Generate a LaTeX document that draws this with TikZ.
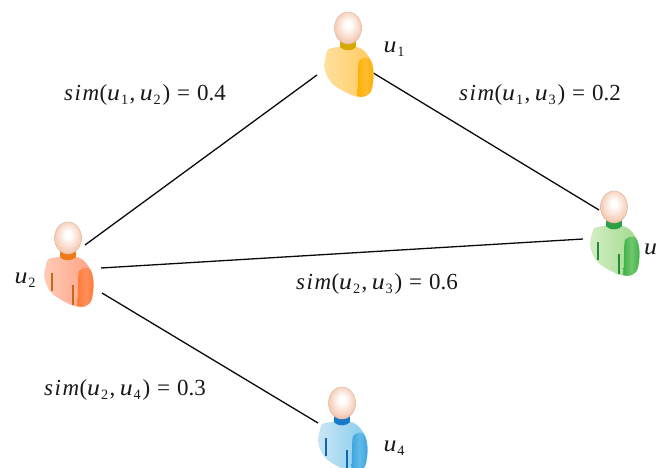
\documentclass[tikz,border=0pt]{standalone}
\usepackage{fontspec}
\usepackage{graphicx}
\setmainfont[ItalicFeatures={LetterSpace=7}]{Liberation Serif}
\definecolor{headl}{HTML}{DCB8A4}
\definecolor{lineK}{HTML}{0A0A0A}
\pgfdeclareradialshading{headsh}{\pgfpoint{0bp}{6bp}}{%
  color(0bp)=(white); color(5bp)=(white); color(14bp)=(rgb,255:red,252;green,232;blue,222);
  color(24bp)=(rgb,255:red,246;green,205;blue,184); color(36bp)=(rgb,255:red,238;green,176;blue,148); color(50bp)=(rgb,255:red,224;green,154;blue,126)}
\newcommand{\uit}{\textit{\scalebox{1.12}[1]{u}}}
\newcommand{\usub}[1]{\uit\kern.04em\raisebox{-.38ex}{\scalebox{.62}{#1}}}
\newcommand{\simlab}[3]{\textit{sim}\kern-.06em(\usub{#1}\kern.06em,\kern.2em\usub{#2}\kern.08em)\kern.3em=\kern.3em#3}
\newcommand{\drawperson}[7]{%
 \definecolor{pLight}{HTML}{#3}\definecolor{pMid}{HTML}{#4}%
 \definecolor{pSleeve}{HTML}{#5}\definecolor{pNeck}{HTML}{#6}%
 \begin{scope}[shift={(#1,#2)}]
  \fill[pNeck] (-8,12) rectangle (8,24);
  \path[left color=pLight,right color=pMid,draw=pMid!70!white,line width=.4pt]
    (-9,19) .. controls (-13,20) and (-18,20) .. (-20,22)
    .. controls (-23,30) and (-24,36) .. (-23,41)
    .. controls (-21,49) and (-18,53) .. (-15,56)
    .. controls (-10,60) and (0,66) .. (7,68)
    .. controls (14,70) and (22,69) .. (24,60)
    .. controls (26,50) and (26,40) .. (23,33)
    .. controls (20,27) and (16,21) .. (9,19)
    .. controls (4,24) and (-4,24) .. (-9,19) -- cycle;
  \path[top color=pSleeve,bottom color=pSleeve,middle color=pMid!55!pSleeve,shading angle=90]
    (11,33) .. controls (14,29) and (22,28) .. (23,33)
    .. controls (26,40) and (26,50) .. (24,60)
    .. controls (22,69) and (14,70) .. (9,68)
    .. controls (11,55) and (9,42) .. (11,33) -- cycle;
  \if#7y
   \draw[pNeck!85!black,line width=1.1pt] (-16,35) -- (-16,53);
   \draw[pNeck!85!black,line width=1.1pt] (5,47) -- (5,67);
  \fi
  \shade[shading=headsh,draw=headl,line width=.5pt]
    (0,0) ellipse[x radius=13.5,y radius=16];
 \end{scope}}
\tikzset{
  linkline/.style={draw=lineK,line width=1.3pt},
  lbl/.style={inner sep=0pt,font=\fontsize{23}{26}\selectfont,text=black!90},
  ulbl/.style={inner sep=0pt,font=\fontsize{23}{26}\selectfont,text=black!90}
}
\begin{document}
\begin{tikzpicture}[x=1pt,y=-1pt]
\useasboundingbox (0,0) rectangle (656,468);
\clip (0,0) rectangle (656,468);
\fill[white] (0,0) rectangle (656,468);
\coordinate (a12) at (317,75);
\coordinate (b12) at (85,245);
\coordinate (a13) at (370,71);
\coordinate (b13) at (599,210);
\coordinate (a23) at (101,268);
\coordinate (b23) at (583,239);
\coordinate (a24) at (102,293);
\coordinate (b24) at (318,423);
\draw[linkline] (a12) -- (b12);
\draw[linkline] (a13) -- (b13);
\draw[linkline] (a23) -- (b23);
\draw[linkline] (a24) -- (b24);
\drawperson{348}{28}{FFE0A0}{FFC858}{FFAE00}{D8A800}{n}
\drawperson{68}{238}{FFCBB6}{FFA084}{FF7A30}{EE7A18}{y}
\drawperson{614}{207}{D4EEC4}{9CDA88}{3DB04A}{2CA044}{y}
\drawperson{342}{403}{C8E6F6}{84CAEC}{38A4E0}{1878C8}{y}
\node[ulbl] (u1) at (394,49) {\usub{1}};
\node[ulbl] (u2) at (25,280) {\usub{2}};
\node[ulbl,anchor=west] (u3) at (644,251) {\usub{3}};
\node[ulbl] (u4) at (394,448) {\usub{4}};
\node[lbl] (s12) at (145,95) {\simlab{1}{2}{0.4}};
\node[lbl] (s13) at (540,95) {\simlab{1}{3}{0.2}};
\node[lbl] (s23) at (377,284) {\simlab{2}{3}{0.6}};
\node[lbl] (s24) at (125,390) {\simlab{2}{4}{0.3}};
\end{tikzpicture}
\end{document}
